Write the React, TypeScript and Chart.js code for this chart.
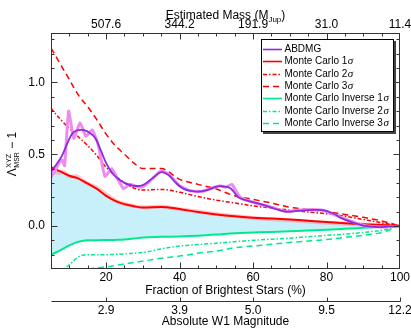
import React, { useEffect, useRef } from 'react';
import { Chart, registerables } from 'chart.js';

Chart.register(...registerables);

const FONT = '"Liberation Sans", Arial, Helvetica, sans-serif';

// ---- tick labels ----
const fracTicks = [20, 40, 60, 80, 100];
const massLabels = ['507.6', '344.2', '191.9', '31.0', '11.4'];
const w1Labels = ['2.9', '3.9', '5.0', '9.5', '12.2'];
const yTicks = [0, 0.5, 1.0];

// ---- Monte Carlo curves (shared x grid) ----
const mcX = [5, 7.5, 10, 12.5, 15, 17.5, 20, 22.5, 25, 27.5, 30, 35, 40, 45, 50, 55, 60, 65, 70, 75, 80, 85, 90, 95, 100];
const mc1 = [0.41, 0.38, 0.35, 0.33, 0.295, 0.258, 0.21, 0.175, 0.152, 0.138, 0.128, 0.133, 0.118, 0.097, 0.08, 0.067, 0.058, 0.052, 0.045, 0.036, 0.027, 0.019, 0.012, 0.006, 0];
const mc2 = [0.82, 0.745, 0.68, 0.62, 0.56, 0.49, 0.41, 0.35, 0.3, 0.265, 0.25, 0.255, 0.235, 0.205, 0.18, 0.16, 0.14, 0.125, 0.11, 0.097, 0.085, 0.068, 0.045, 0.022, 0];
const mc3 = [1.24, 1.13, 1.02, 0.91, 0.83, 0.74, 0.64, 0.56, 0.5, 0.44, 0.4, 0.4, 0.325, 0.29, 0.258, 0.21, 0.185, 0.16, 0.13, 0.115, 0.1, 0.08, 0.06, 0.035, 0];
const inv1 = [-0.2, -0.17, -0.135, -0.11, -0.1, -0.099, -0.098, -0.097, -0.095, -0.088, -0.08, -0.076, -0.073, -0.068, -0.06, -0.05, -0.046, -0.042, -0.037, -0.032, -0.026, -0.02, -0.013, -0.006, 0];
const inv2 = [-0.45, -0.33, -0.27, -0.215, -0.2, -0.2, -0.2, -0.198, -0.195, -0.19, -0.185, -0.16, -0.14, -0.13, -0.12, -0.11, -0.1, -0.092, -0.085, -0.075, -0.066, -0.057, -0.045, -0.03, 0];
const inv3 = [-0.5, -0.4, -0.33, -0.31, -0.3, -0.292, -0.285, -0.275, -0.265, -0.255, -0.245, -0.225, -0.21, -0.19, -0.175, -0.152, -0.14, -0.128, -0.115, -0.105, -0.095, -0.08, -0.065, -0.045, 0];

// ---- light band along Monte Carlo 1 sigma ----
const ribX = [5, 7, 8.5, 10, 12, 14, 16, 18, 20, 23, 26, 30, 35, 40, 50, 60, 70, 80, 90, 100];
const ribY = [0.4, 0.37, 0.375, 0.345, 0.345, 0.31, 0.285, 0.26, 0.22, 0.17, 0.148, 0.13, 0.135, 0.117, 0.083, 0.056, 0.04, 0.022, 0.01, 0];

// ---- ABDMG smoothed ----
const abdmgX = [5, 6.5, 8, 9.5, 11, 12.5, 14, 15.5, 17, 18.5, 20, 21.5, 23, 25, 27.5, 30, 32.5, 35, 37, 39, 41, 43, 45, 47.5, 50, 52, 54, 56, 58, 62.5, 66, 69, 72, 75, 79, 82, 84, 87, 90, 94, 97, 100];
const abdmgY = [0.38, 0.43, 0.49, 0.58, 0.65, 0.668, 0.668, 0.65, 0.615, 0.53, 0.44, 0.375, 0.335, 0.3, 0.28, 0.285, 0.33, 0.375, 0.355, 0.3, 0.26, 0.245, 0.24, 0.25, 0.275, 0.275, 0.26, 0.2, 0.18, 0.148, 0.12, 0.1, 0.105, 0.11, 0.11, 0.085, 0.055, 0.025, 0.003, -0.008, -0.003, 0];

// ---- ABDMG raw ----
const rawX = [5, 6, 7, 8, 8.7, 9.8, 11.2, 12.9, 14.5, 16.2, 17.8, 19.7, 21.5, 24.7, 26.5, 29, 30.5, 33, 35, 37, 40, 43, 46, 48.5, 51, 52.5, 54.2, 56.5, 60, 65, 69, 72, 76, 79, 82, 85, 88, 91, 95, 100];
const rawY = [0.34, 0.38, 0.43, 0.46, 0.42, 0.8, 0.61, 0.72, 0.625, 0.67, 0.57, 0.345, 0.4, 0.26, 0.29, 0.27, 0.28, 0.34, 0.385, 0.36, 0.28, 0.245, 0.24, 0.26, 0.28, 0.27, 0.29, 0.2, 0.165, 0.13, 0.1, 0.11, 0.115, 0.11, 0.08, 0.05, 0.02, 0.0, -0.008, 0];

const legendNames = ['ABDMG', 'Monte Carlo 1σ', 'Monte Carlo 2σ', 'Monte Carlo 3σ', 'Monte Carlo Inverse 1σ', 'Monte Carlo Inverse 2σ', 'Monte Carlo Inverse 3σ'];

const PURPLE = '#8c2be0';
const PINK = '#ee8cee';
const RED = '#ff0000';
const GREEN = '#00ea8c';
const FILL = '#c8f0fa';
const DASHDOT = [4, 2, 1.5, 2];
const DASHED = [6, 4];

const pts = (xs: number[], ys: number[]) => xs.map((x, i) => ({ x, y: ys[i] }));

const axisDecor = {
  id: 'axisDecor',
  afterDraw(chart: any) {
    const { ctx, chartArea: a, scales } = chart;
    const xs = scales.x;
    const ys = scales.y;
    const L = Math.round(a.left) + 0.5;
    const R = Math.round(a.right) - 0.5;
    const T = Math.round(a.top) + 0.5;
    const B = Math.round(a.bottom) - 0.5;
    ctx.save();
    ctx.strokeStyle = '#333';
    ctx.lineWidth = 1;
    ctx.beginPath();
    // x ticks (top & bottom edges)
    for (let v = 10; v < 100; v += 5) {
      const px = Math.round(xs.getPixelForValue(v)) + 0.5;
      const len = v % 20 === 0 ? 6 : 3;
      ctx.moveTo(px, B); ctx.lineTo(px, B - len);
      ctx.moveTo(px, T); ctx.lineTo(px, T + len);
    }
    // y ticks (left & right edges)
    for (let k = -2; k <= 13; k++) {
      const v = k / 10;
      const py = Math.round(ys.getPixelForValue(v)) + 0.5;
      const len = k % 5 === 0 ? 6 : 3;
      ctx.moveTo(L, py); ctx.lineTo(L + len, py);
      ctx.moveTo(R, py); ctx.lineTo(R - len, py);
    }
    ctx.stroke();
    ctx.strokeRect(L, T, R - L, B - T);
    // secondary bottom axis line with upward ticks
    const x2 = scales.x2;
    const y2 = Math.round(x2.top) + 0.5;
    ctx.beginPath();
    ctx.moveTo(L, y2); ctx.lineTo(R + 1, y2);
    for (const v of fracTicks) {
      const px = Math.round(x2.getPixelForValue(v)) + 0.5;
      ctx.moveTo(px, y2); ctx.lineTo(px, y2 - 4);
    }
    ctx.stroke();

    // ---- y axis title: Λ^XYZ_MSR − 1 ----
    ctx.fillStyle = '#000';
    ctx.textBaseline = 'alphabetic';
    ctx.textAlign = 'left';
    const big = `12px ${FONT}`;
    const small = `7px ${FONT}`;
    ctx.font = big;
    const wL = ctx.measureText('Λ').width;
    const wTail = ctx.measureText(' − 1').width;
    ctx.font = small;
    const wS = Math.max(ctx.measureText('XYZ').width, ctx.measureText('MSR').width);
    const W = wL + 0.5 + wS + wTail;
    const cy = (a.top + a.bottom) / 2 + 3;
    ctx.save();
    ctx.translate(16, cy);
    ctx.rotate(-Math.PI / 2);
    let x0 = -W / 2;
    ctx.font = big;
    ctx.fillText('Λ', x0, 0);
    x0 += wL + 0.5;
    ctx.font = small;
    ctx.fillText('XYZ', x0, -5.5);
    ctx.fillText('MSR', x0, 2.5);
    x0 += wS;
    ctx.font = big;
    ctx.fillText(' − 1', x0, 0);
    ctx.restore();

    // ---- top axis title: Estimated Mass (M_Jup) ----
    const t1 = 'Estimated Mass (M';
    const t2 = 'Jup';
    const t3 = ')';
    ctx.font = big;
    const w1 = ctx.measureText(t1).width;
    const w3 = ctx.measureText(t3).width;
    ctx.font = `8px ${FONT}`;
    const w2 = ctx.measureText(t2).width;
    let tx = (a.left + a.right) / 2 - (w1 + w2 + w3) / 2;
    const tb = 18.5;
    ctx.font = big;
    ctx.fillText(t1, tx, tb);
    tx += w1;
    ctx.font = `8px ${FONT}`;
    ctx.fillText(t2, tx, tb + 3);
    tx += w2;
    ctx.font = big;
    ctx.fillText(t3, tx, tb);
    ctx.restore();
  },
};

const legendBox = {
  id: 'legendBox',
  afterDraw(chart: any) {
    const { ctx } = chart;
    const bx = 261, by = 39, bw = 132, bh = 92;
    ctx.save();
    ctx.fillStyle = '#444';
    ctx.fillRect(bx + 2, by + 2, bw + 1, bh + 1);
    ctx.fillStyle = '#fff';
    ctx.fillRect(bx, by, bw, bh);
    ctx.strokeStyle = '#000';
    ctx.lineWidth = 1;
    ctx.strokeRect(bx + 0.5, by + 0.5, bw, bh);
    const dsets = chart.data.datasets;
    legendNames.forEach((name: string, i: number) => {
      const ds = dsets.find((d: any) => d.label === name);
      const y = Math.round(49 + i * 12.3) + 0.5;
      ctx.beginPath();
      ctx.strokeStyle = ds.borderColor;
      ctx.lineWidth = Math.min(ds.borderWidth, 1.6);
      ctx.setLineDash(ds.borderDash || []);
      ctx.moveTo(263, y);
      ctx.lineTo(282, y);
      ctx.stroke();
      ctx.setLineDash([]);
      ctx.fillStyle = '#000';
      ctx.textBaseline = 'middle';
      ctx.textAlign = 'left';
      let main = name;
      let sig = '';
      if (name.endsWith('σ')) { main = name.slice(0, -1); sig = 'σ'; }
      ctx.font = `10px ${FONT}`;
      ctx.fillText(main, 284.5, y);
      if (sig) {
        const w = ctx.measureText(main).width;
        ctx.font = `italic 11px "Liberation Serif", "DejaVu Serif", serif`;
        ctx.fillText(sig, 284.5 + w + 0.5, y);
      }
    });
    ctx.restore();
  },
};

export default function App() {
  const ref = useRef<HTMLCanvasElement>(null);
  useEffect(() => {
    document.body.style.margin = '0';
    Chart.defaults.font.family = FONT;
    Chart.defaults.color = '#000';
    const line = { pointRadius: 0, pointHoverRadius: 0, fill: false, clip: 0, xAxisID: 'x', yAxisID: 'y' };
    const chart = new Chart(ref.current as HTMLCanvasElement, {
      type: 'line',
      data: {
        datasets: [
          { ...line, label: 'ABDMG', data: pts(abdmgX, abdmgY), borderColor: PURPLE, borderWidth: 1.8, tension: 0.4 },
          { ...line, label: 'ABDMG raw', data: pts(rawX, rawY), borderColor: PINK, borderWidth: 3, tension: 0.15 },
          { ...line, label: 'Monte Carlo 1σ', data: pts(mcX, mc1), borderColor: RED, borderWidth: 2, cubicInterpolationMode: 'monotone', fill: { target: 5 }, backgroundColor: FILL },
          { ...line, label: 'Monte Carlo 2σ', data: pts(mcX, mc2), borderColor: RED, borderWidth: 1.5, borderDash: DASHDOT, cubicInterpolationMode: 'monotone' },
          { ...line, label: 'Monte Carlo 3σ', data: pts(mcX, mc3), borderColor: RED, borderWidth: 1.5, borderDash: DASHED, cubicInterpolationMode: 'monotone' },
          { ...line, label: 'Monte Carlo Inverse 1σ', data: pts(mcX, inv1), borderColor: GREEN, borderWidth: 2, cubicInterpolationMode: 'monotone' },
          { ...line, label: 'Monte Carlo Inverse 2σ', data: pts(mcX, inv2), borderColor: GREEN, borderWidth: 1.5, borderDash: DASHDOT, cubicInterpolationMode: 'monotone' },
          { ...line, label: 'Monte Carlo Inverse 3σ', data: pts(mcX, inv3), borderColor: GREEN, borderWidth: 1.5, borderDash: DASHED, cubicInterpolationMode: 'monotone' },
          { ...line, label: 'MC band', data: pts(ribX, ribY), borderColor: 'rgba(255,110,110,0.35)', borderWidth: 4, tension: 0.3 },
        ],
      },
      options: {
        responsive: false,
        maintainAspectRatio: false,
        animation: false,
        devicePixelRatio: 1,
        events: [],
        layout: { padding: { left: 0, right: 11, top: 0, bottom: 0 } },
        plugins: {
          legend: { display: false },
          tooltip: { enabled: false },
          filler: { drawTime: 'beforeDatasetsDraw' },
        },
        scales: {
          x: {
            type: 'linear', position: 'bottom', min: 5, max: 100, weight: 0,
            afterBuildTicks: (s: any) => { s.ticks = fracTicks.map((v) => ({ value: v })); },
            afterFit: (s: any) => { s.height = 32; s.paddingLeft = 0; s.paddingRight = 0; },
            grid: { display: false, drawTicks: false },
            border: { display: false },
            ticks: { padding: 1, color: '#000', font: { size: 12 }, maxRotation: 0, autoSkip: false },
            title: { display: true, text: 'Fraction of Brightest Stars (%)', color: '#000', font: { size: 12 }, padding: { top: 0, bottom: 3 } },
          },
          x2: {
            type: 'linear', position: 'bottom', min: 5, max: 100, weight: 1,
            afterBuildTicks: (s: any) => { s.ticks = fracTicks.map((v) => ({ value: v })); },
            afterFit: (s: any) => { s.height = 28; s.paddingLeft = 0; s.paddingRight = 0; },
            grid: { display: false, drawTicks: false },
            border: { display: false },
            ticks: { padding: 2.5, color: '#000', font: { size: 12 }, maxRotation: 0, autoSkip: false,
              callback: (v: any) => w1Labels[fracTicks.indexOf(Number(v))] ?? '' },
            title: { display: true, text: 'Absolute W1 Magnitude', color: '#000', font: { size: 12 }, padding: { top: 0, bottom: 0 } },
          },
          xTop: {
            type: 'linear', position: 'top', min: 5, max: 100,
            afterBuildTicks: (s: any) => { s.ticks = fracTicks.map((v) => ({ value: v })); },
            afterFit: (s: any) => { s.height = 33; s.paddingLeft = 0; s.paddingRight = 0; },
            grid: { display: false, drawTicks: false },
            border: { display: false },
            ticks: { padding: 1, color: '#000', font: { size: 12 }, maxRotation: 0, autoSkip: false,
              callback: (v: any) => massLabels[fracTicks.indexOf(Number(v))] ?? '' },
          },
          y: {
            type: 'linear', position: 'left', min: -0.3, max: 1.345,
            afterBuildTicks: (s: any) => { s.ticks = yTicks.map((v) => ({ value: v })); },
            afterFit: (s: any) => { s.width = 51; s.paddingTop = 0; s.paddingBottom = 0; },
            grid: { display: false, drawTicks: false },
            border: { display: false },
            ticks: { padding: 6, color: '#000', font: { size: 12 }, callback: (v: any) => Number(v).toFixed(1) },
          },
        },
      },
      plugins: [axisDecor, legendBox],
    } as any);
    return () => chart.destroy();
  }, []);
  return (
    <div style={{ width: 411, height: 329 }}>
      <canvas ref={ref} width={411} height={329} style={{ display: 'block' }} />
    </div>
  );
}
